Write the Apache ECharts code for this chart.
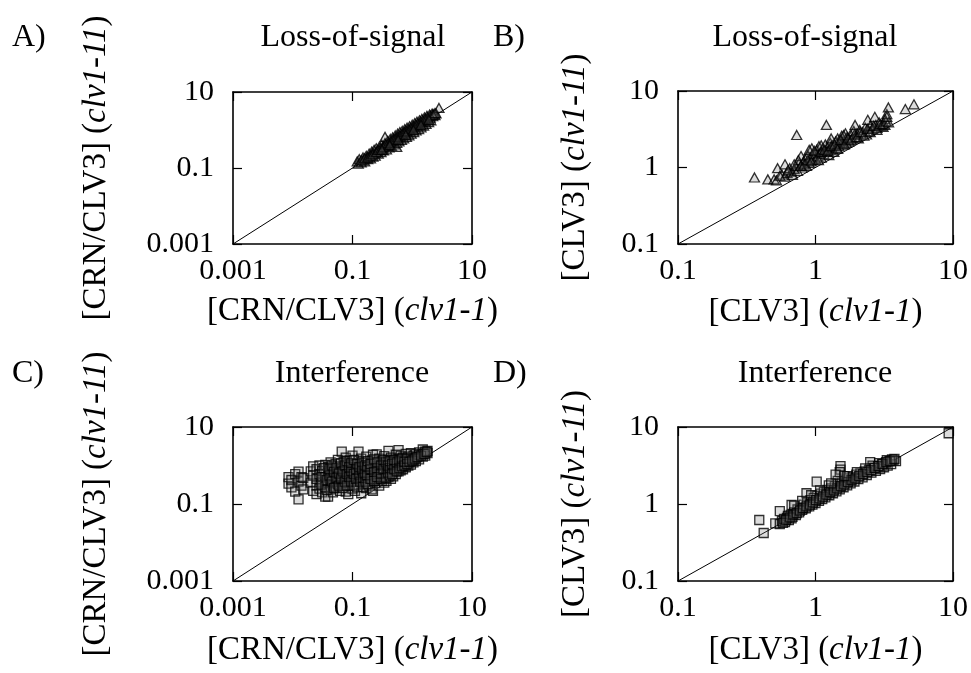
<!DOCTYPE html>
<html><head><meta charset="utf-8">
<script src="https://cdn.jsdelivr.net/npm/echarts@6/dist/echarts.min.js"></script>
<style>html,body{margin:0;padding:0;background:#fff}#c{width:971px;height:673px}</style>
</head><body><div id="c"></div>
<script>
const FONT = 'Liberation Serif';

// Panel A: Loss-of-signal, [CRN/CLV3] clv1-1 vs clv1-11
const lossCrn = [
[0.12,0.15],[0.125,0.13],[0.13,0.17],[0.14,0.14],[0.15,0.19],[0.15,0.16],[0.16,0.15],[0.17,0.21],[0.17,0.18],[0.18,0.17],
[0.19,0.24],[0.19,0.2],[0.2,0.18],[0.21,0.27],[0.21,0.22],[0.22,0.2],[0.23,0.3],[0.24,0.25],[0.24,0.21],[0.25,0.33],
[0.26,0.28],[0.27,0.24],[0.28,0.36],[0.29,0.3],[0.3,0.26],[0.31,0.41],[0.32,0.34],[0.33,0.29],[0.35,0.66],[0.35,0.45],
[0.36,0.38],[0.37,0.31],[0.39,0.52],[0.4,0.42],[0.41,0.35],[0.43,0.58],[0.44,0.47],[0.45,0.38],[0.47,0.64],[0.48,0.52],
[0.5,0.42],[0.52,0.72],[0.53,0.57],[0.55,0.36],[0.55,0.46],[0.57,0.8],[0.58,0.62],[0.6,0.5],[0.62,0.88],[0.64,0.68],
[0.66,0.55],[0.68,0.95],[0.7,0.75],[0.72,0.6],[0.75,1.05],[0.77,0.82],[0.8,0.66],[0.82,1.15],[0.85,0.9],[0.88,0.72],
[0.9,1.25],[0.93,0.98],[0.96,0.8],[1.0,1.38],[1.02,1.08],[1.06,0.88],[1.1,1.52],[1.12,1.18],[1.16,0.97],[1.2,1.65],
[1.24,1.3],[1.28,1.06],[1.32,1.8],[1.36,1.42],[1.4,1.18],[1.45,1.95],[1.5,1.58],[1.55,1.3],[1.6,2.15],[1.65,1.75],
[1.7,1.45],[1.76,2.35],[1.82,1.92],[1.88,1.62],[1.95,2.55],[2.0,2.1],[2.05,1.8],[2.15,2.7],[2.2,2.3],[2.3,2.6],
[2.4,2.45],[2.5,2.75],[2.8,3.8],
[0.14,0.16],[0.16,0.18],[0.18,0.19],[0.2,0.21],[0.22,0.23],[0.25,0.26],[0.27,0.3],[0.3,0.33],[0.33,0.36],[0.36,0.42],
[0.4,0.46],[0.44,0.5],[0.48,0.56],[0.52,0.6],[0.57,0.66],[0.62,0.72],[0.68,0.8],[0.74,0.88],[0.8,0.95],[0.88,1.05],
[0.96,1.15],[1.05,1.25],[1.15,1.38],[1.25,1.5],[1.38,1.65],[1.5,1.8],[1.65,1.98],[1.8,2.15],[2.0,2.4],[2.2,2.55],
[2.4,2.8],[0.31,0.3],[0.42,0.4],[0.58,0.55],[0.78,0.74],[1.05,1.0],[1.4,1.35],[1.9,1.85]
];

// Panel B: Loss-of-signal, [CLV3] clv1-1 vs clv1-11
const lossClv = [
[0.36,0.74],[0.45,0.7],[0.5,0.7],[0.52,0.68],[0.53,0.98],[0.57,0.81],[0.6,0.76],[0.62,0.85],[0.65,0.98],[0.67,0.88],
[0.68,0.8],[0.7,0.95],[0.72,1.05],[0.73,2.66],[0.74,0.9],[0.76,1.15],[0.785,1.41],[0.8,1.0],[0.82,1.2],[0.84,1.3],
[0.86,1.05],[0.88,1.45],[0.9,1.15],[0.92,1.35],[0.94,1.78],[0.95,1.25],[0.97,1.5],[1.0,1.3],[1.02,1.7],[1.04,1.4],
[1.06,1.9],[1.08,1.55],[1.1,1.35],[1.12,1.75],[1.15,1.5],[1.18,2.0],[1.2,3.6],[1.2,1.6],[1.22,1.85],[1.25,1.45],
[1.28,2.1],[1.3,1.7],[1.33,1.95],[1.36,1.6],[1.4,2.2],[1.42,1.8],[1.45,2.4],[1.48,1.9],[1.5,2.1],[1.55,2.6],
[1.58,2.0],[1.6,2.3],[1.65,2.8],[1.68,2.1],[1.7,2.5],[1.75,2.2],[1.8,2.7],[1.85,2.4],[1.9,3.0],[1.94,3.6],
[1.95,2.5],[2.0,2.8],[2.05,2.4],[2.1,3.1],[2.15,2.7],[2.2,2.9],[2.3,3.3],[2.35,2.7],[2.4,4.2],[2.45,3.0],
[2.5,3.5],[2.6,3.2],[2.7,4.6],[2.75,3.6],[2.8,3.3],[2.9,3.9],[3.0,3.5],[3.1,3.4],[3.2,4.3],[3.3,5.0],
[3.39,6.1],[3.2,3.6],[4.5,5.8],[5.2,6.7],[0.6,1.1],[0.9,1.7],[1.3,2.4],[0.75,1.25],[1.1,1.95],[1.6,2.65],
[0.55,0.78],[0.63,0.92],[0.7,1.1],[0.78,1.05],[0.83,1.1],[0.88,1.25],[0.93,1.2],[0.98,1.65],[1.05,1.25],[1.1,1.6],
[1.16,1.7],[1.23,1.65],[1.3,1.9],[1.38,2.0],[1.45,1.75],[1.52,2.3],[1.62,2.0],[1.72,2.4],[1.82,2.3],[1.92,2.7],
[2.0,2.5],[2.12,2.9],[2.25,2.6],[2.38,3.2],[2.5,2.9],[2.65,3.5],[2.8,3.1],[2.95,3.7],[3.1,3.7],[3.25,4.0],
[3.4,3.9],[3.3,4.6]
];

// Panel C: Interference, [CRN/CLV3] clv1-1 vs clv1-11
const interfCrn = [
[0.0085,0.5],[0.0085,0.34],[0.0095,0.42],[0.0095,0.27],[0.011,0.21],[0.011,0.6],[0.0125,0.69],[0.0125,0.132],[0.0125,0.38],
[0.014,0.3],[0.014,0.5],[0.015,0.47],[0.015,0.24],[0.02,0.36],[0.02,0.7],[0.022,0.22],[0.022,0.55],[0.022,0.95],
[0.025,0.3],[0.025,0.45],[0.025,0.8],[0.025,0.18],[0.028,0.6],[0.028,0.25],[0.028,1.0],[0.031,0.38],[0.031,0.72],[0.031,0.2],
[0.035,1.03],[0.035,0.5],[0.035,0.28],[0.035,0.155],[0.039,0.155],[0.039,0.65],[0.039,0.35],[0.039,0.9],
[0.043,0.45],[0.043,0.24],[0.043,1.2],[0.043,0.7],[0.047,0.3],[0.047,0.55],[0.047,0.85],[0.047,0.2],
[0.052,0.4],[0.052,1.1],[0.052,0.62],[0.052,0.27],[0.057,0.75],[0.057,0.33],[0.057,0.5],[0.057,1.4],
[0.062,0.22],[0.062,0.95],[0.062,0.42],[0.062,0.6],[0.066,2.3],[0.066,0.8],[0.066,0.36],[0.066,0.52],
[0.071,0.29],[0.071,1.25],[0.071,0.68],[0.071,0.45],[0.077,0.55],[0.077,0.21],[0.077,0.9],[0.077,1.6],
[0.085,0.18],[0.085,0.4],[0.085,0.75],[0.085,1.1],[0.09,0.6],[0.09,0.3],[0.09,1.35],[0.09,0.5],
[0.1,0.25],[0.1,0.85],[0.1,0.45],[0.1,1.8],[0.1,0.65],[0.11,0.38],[0.11,1.05],[0.11,0.55],[0.11,0.22],
[0.126,2.3],[0.126,0.7],[0.126,0.32],[0.126,1.3],[0.126,0.5],[0.14,0.19],[0.14,0.95],[0.14,0.42],[0.14,0.6],[0.14,1.5],
[0.155,0.8],[0.155,0.35],[0.155,1.15],[0.155,0.55],[0.17,0.26],[0.17,0.68],[0.17,1.7],[0.17,0.45],
[0.19,0.5],[0.19,1.0],[0.19,0.3],[0.19,0.75],[0.21,1.35],[0.21,0.4],[0.21,0.62],[0.21,0.24],
[0.22,0.22],[0.22,0.85],[0.22,1.9],[0.24,0.55],[0.24,1.2],[0.24,0.35],[0.254,1.95],[0.254,0.7],[0.254,0.45],
[0.28,0.3],[0.28,0.95],[0.28,1.5],[0.28,0.6],[0.31,0.4],[0.31,0.75],[0.31,1.3],[0.34,1.1],[0.34,0.5],[0.34,1.75],[0.34,0.36],
[0.37,0.62],[0.37,0.9],[0.37,0.4],[0.4,2.4],[0.4,1.4],[0.4,0.5],[0.4,0.8],[0.44,0.45],[0.44,1.0],[0.44,1.6],
[0.48,0.7],[0.48,1.25],[0.48,0.52],[0.53,1.9],[0.53,0.6],[0.53,0.95],[0.59,2.5],[0.59,1.1],[0.59,0.7],[0.59,1.5],
[0.64,0.75],[0.64,1.3],[0.64,1.8],[0.7,0.8],[0.7,1.05],[0.7,1.6],[0.78,0.9],[0.78,1.4],[0.78,2.0],
[0.86,1.0],[0.86,1.2],[0.86,1.7],[0.95,1.05],[0.95,1.5],[0.95,2.1],[1.05,1.2],[1.05,1.8],[1.05,1.4],
[1.15,1.3],[1.15,2.0],[1.15,1.6],[1.3,1.45],[1.3,1.9],[1.3,2.2],[1.5,2.6],[1.5,1.7],[1.5,2.0],
[1.65,1.8],[1.65,2.3],[1.8,2.1],[1.8,2.4],
[0.03,0.5],[0.03,0.32],[0.033,0.85],[0.037,0.42],[0.037,0.23],[0.041,0.55],[0.041,0.8],[0.045,0.38],[0.045,1.0],[0.049,0.68],
[0.049,0.26],[0.054,0.48],[0.054,0.88],[0.059,0.3],[0.059,0.62],[0.064,1.15],[0.064,0.46],[0.068,0.26],[0.068,0.7],[0.074,0.38],
[0.074,1.0],[0.08,0.6],[0.08,0.3],[0.08,1.3],[0.088,0.5],[0.088,0.9],[0.095,0.38],[0.095,0.72],[0.095,1.15],[0.105,0.3],
[0.105,0.6],[0.105,1.4],[0.115,0.45],[0.115,0.8],[0.12,0.27],[0.12,1.1],[0.13,0.58],[0.13,0.9],[0.135,0.38],[0.145,0.75],
[0.145,1.2],[0.15,0.28],[0.15,0.48],[0.16,0.62],[0.16,1.0],[0.165,0.38],[0.175,0.9],[0.175,0.55],[0.18,1.3],[0.18,0.33],
[0.2,0.45],[0.2,0.8],[0.2,1.1],[0.23,0.4],[0.23,0.68],[0.23,1.45],[0.26,0.5],[0.26,0.85],[0.26,1.2],[0.3,0.45],
[0.3,1.0],[0.3,0.62],[0.33,0.8],[0.33,1.4],[0.36,0.48],[0.36,1.2],[0.39,0.65],[0.39,1.0],[0.42,0.55],[0.42,0.85],
[0.42,1.3],[0.46,0.6],[0.46,1.1],[0.5,0.8],[0.5,1.4],[0.55,0.7],[0.55,1.2],[0.61,0.85],[0.61,1.35],[0.67,0.95],
[0.67,1.5],[0.74,1.0],[0.74,1.25],[0.82,1.1],[0.82,1.5],[0.9,1.25],[1.0,1.35],[1.1,1.5],[1.22,1.65],[1.4,1.8],
[1.6,2.0],[1.75,2.25]
];

// Panel D: Interference, [CLV3] clv1-1 vs clv1-11
const interfClv = [
[0.39,0.62],[0.42,0.42],[0.51,0.56],[0.55,0.81],[0.67,0.97],[0.86,1.38],[1.02,1.95],[1.2,1.45],[1.52,3.1],[1.52,2.8],
[1.5,2.6],[2.5,3.5],[9.3,8.3],
[0.55,0.55],[0.57,0.6],[0.6,0.58],[0.62,0.66],[0.64,0.62],[0.66,0.72],[0.68,0.68],[0.7,0.78],[0.72,0.72],[0.74,0.85],
[0.76,0.78],[0.78,0.9],[0.8,0.84],[0.82,0.98],[0.85,0.88],[0.87,1.05],[0.9,0.93],[0.92,1.12],[0.95,0.98],[0.97,1.2],
[1.0,1.03],[1.03,1.28],[1.06,1.1],[1.09,1.36],[1.12,1.16],[1.15,1.44],[1.18,1.22],[1.22,1.52],[1.26,1.3],[1.3,1.6],
[1.34,1.38],[1.38,1.7],[1.42,1.46],[1.46,1.8],[1.5,1.55],[1.55,1.9],[1.6,1.65],[1.65,2.02],[1.7,1.75],[1.75,2.15],
[1.8,1.85],[1.86,2.25],[1.92,1.96],[1.98,2.4],[2.05,2.1],[2.12,2.5],[2.2,2.22],[2.28,2.65],[2.36,2.38],[2.45,2.8],
[2.55,2.55],[2.65,2.95],[2.75,2.7],[2.85,3.1],[2.95,2.85],[3.05,3.3],[3.15,3.0],[3.25,3.45],[3.35,3.15],[3.45,3.6],
[3.55,3.3],[3.7,3.7],[3.85,3.6],[3.6,3.8],[3.3,3.7],[2.9,3.4],[2.6,3.15],[2.3,2.9],[2.0,2.6],[1.7,2.3],
[1.45,2.0],[1.25,1.75],[1.08,1.5],[0.93,1.3],[0.8,1.1],[0.7,0.95],[0.63,0.7],[0.67,0.65],[0.59,0.64],
[0.58,0.57],[0.61,0.62],[0.65,0.67],[0.69,0.73],[0.73,0.76],[0.77,0.82],[0.81,0.88],[0.86,0.93],[0.91,0.98],[0.96,1.05],
[1.01,1.12],[1.07,1.18],[1.13,1.25],[1.2,1.32],[1.28,1.42],[1.36,1.5],[1.44,1.6],[1.53,1.7],[1.62,1.8],[1.72,1.92],
[1.83,2.05],[1.95,2.15],[2.08,2.3],[2.22,2.45],[2.38,2.6],[2.52,2.75],[2.7,2.95],[2.88,3.1],[3.08,3.3],[3.28,3.5],
[3.5,3.6],[3.75,3.85],[1.4,2.4],[1.62,2.3],[1.3,1.85]
];

const crnTicks = [0.001, 0.1, 10];
const clvTicks = [0.1, 1, 10];
const panelLetters = ['A)', 'B)', 'C)', 'D)'];
const panelTitles = ['Loss-of-signal', 'Loss-of-signal', 'Interference', 'Interference'];
const xNames = ['[CRN/CLV3] ({i|clv1-1})', '[CLV3] ({i|clv1-1})', '[CRN/CLV3] ({i|clv1-1})', '[CLV3] ({i|clv1-1})'];
const yNames = ['[CRN/CLV3] ({i|clv1-11})', '[CLV3] ({i|clv1-11})', '[CRN/CLV3] ({i|clv1-11})', '[CLV3] ({i|clv1-11})'];

const panelData = [lossCrn, lossClv, interfCrn, interfClv];
const panelTicks = [crnTicks, clvTicks, crnTicks, clvTicks];

const grids = [
  {left: 233, top: 92, width: 239, height: 152},
  {left: 678, top: 91, width: 275, height: 153},
  {left: 233, top: 427, width: 239, height: 154},
  {left: 678, top: 427, width: 275, height: 154}
];
const yNameGaps = [120, 86, 120, 86];
const xNameGaps = [51, 52, 53, 53];
const titlePos = [[353, 38], [805, 38], [352, 374], [815, 374]];
const letterPos = [[12, 38], [493, 38], [12, 374], [493, 374]];

const fmt = v => String(parseFloat(Number(v).toPrecision(6)));
const nameStyle = {
  fontFamily: FONT, fontSize: 33, color: '#000',
  rich: { i: { fontFamily: FONT, fontSize: 33, fontStyle: 'italic', color: '#000' } }
};

const xAxis = [], yAxis = [], series = [], graphic = [];
for (let i = 0; i < 4; i++) {
  const t = panelTicks[i];
  const min = t[0], max = t[t.length - 1];
  const interval = Math.log10(t[1]) - Math.log10(t[0]);
  const common = {
    gridIndex: i, type: 'log', logBase: 10, min: min, max: max, interval: interval,
    axisLine: {show: true, onZero: false, lineStyle: {color: '#000', width: 1.6}},
    axisTick: {show: true, inside: true, length: 9, lineStyle: {color: '#000', width: 1.2}},
    minorTick: {show: false}, splitLine: {show: false}
  };
  xAxis.push(Object.assign({}, common, {
    position: 'bottom',
    axisLabel: {show: true, margin: 12, color: '#000', fontFamily: FONT, fontSize: 30, formatter: fmt},
    name: xNames[i], nameLocation: 'middle', nameGap: xNameGaps[i], nameTextStyle: nameStyle
  }));
  xAxis.push(Object.assign({}, common, {position: 'top', axisLabel: {show: false}}));
  yAxis.push(Object.assign({}, common, {
    position: 'left',
    axisLabel: {show: true, margin: 19, color: '#000', fontFamily: FONT, fontSize: 30, formatter: fmt},
    name: yNames[i], nameLocation: 'middle', nameRotate: 90, nameGap: yNameGaps[i], nameTextStyle: nameStyle
  }));
  yAxis.push(Object.assign({}, common, {position: 'right', axisLabel: {show: false}}));

  series.push({
    type: 'line', xAxisIndex: 2 * i, yAxisIndex: 2 * i,
    data: [[min, min], [max, max]], symbol: 'none', silent: true,
    lineStyle: {color: '#000', width: 1}, z: 1
  });
  series.push({
    type: 'scatter', xAxisIndex: 2 * i, yAxisIndex: 2 * i,
    data: panelData[i],
    symbol: i < 2 ? 'triangle' : 'rect',
    symbolSize: i < 2 ? [10, 9] : [9, 9],
    itemStyle: {color: 'rgba(110,110,110,0.3)', borderColor: '#000', borderWidth: 1.3},
    silent: true, z: 2
  });

  graphic.push({
    type: 'text', x: titlePos[i][0], y: titlePos[i][1],
    style: {text: panelTitles[i], fill: '#000', fontFamily: FONT, fontSize: 32, align: 'center', verticalAlign: 'middle'}
  });
  graphic.push({
    type: 'text', x: letterPos[i][0], y: letterPos[i][1],
    style: {text: panelLetters[i], fill: '#000', fontFamily: FONT, fontSize: 32, align: 'left', verticalAlign: 'middle'}
  });
}

const chart = echarts.init(document.getElementById('c'), null, {renderer: 'canvas'});
chart.setOption({
  animation: false,
  backgroundColor: '#fff',
  grid: grids.map(g => Object.assign({show: false, containLabel: false}, g)),
  xAxis: xAxis, yAxis: yAxis, series: series, graphic: graphic
});
</script>
</body></html>
